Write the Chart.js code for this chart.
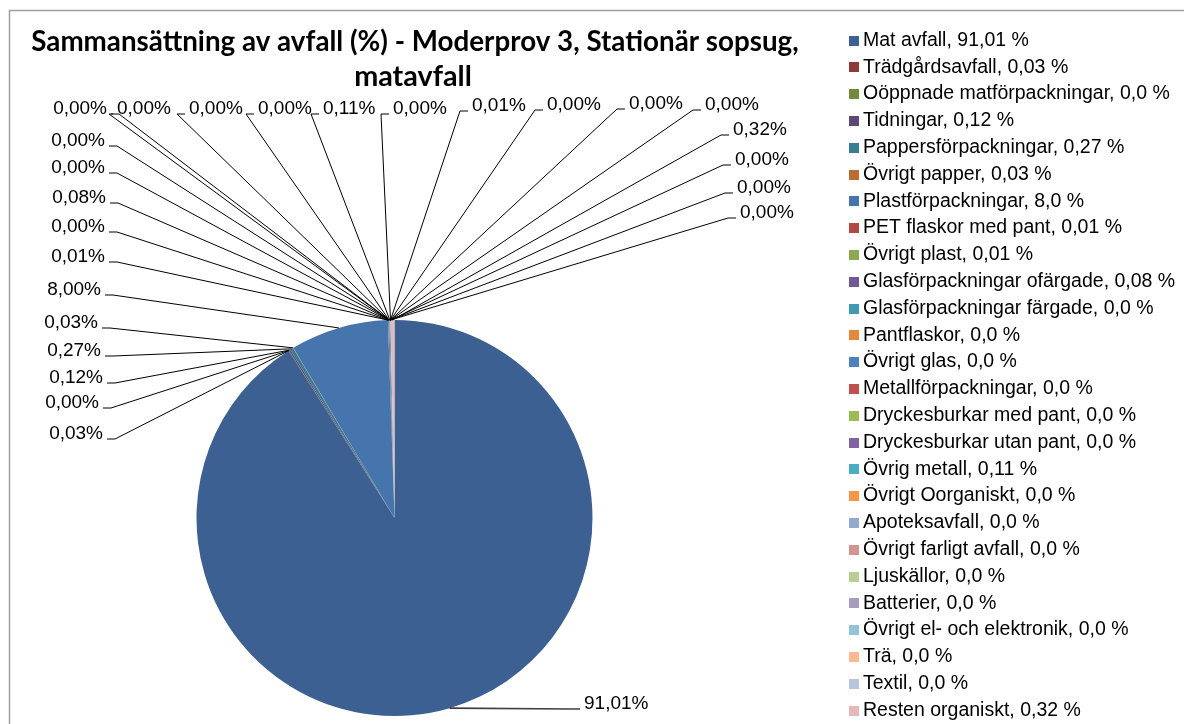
<!DOCTYPE html>
<html>
<head>
<meta charset="utf-8">
<script src="https://cdn.jsdelivr.net/npm/chart.js@4/dist/chart.umd.min.js"></script>
<style>
  html, body { margin: 0; padding: 0; background: #fff; }
</style>
</head>
<body>
<canvas id="wasteChart" width="1184" height="724"></canvas>
<script>
// Fraktioner i tårtans ordning (medurs från kl 12)
const categories = [
    'Mat avfall', 'Trädgårdsavfall', 'Oöppnade matförpackningar', 'Tidningar',
    'Pappersförpackningar', 'Övrigt papper', 'Plastförpackningar', 'PET flaskor med pant',
    'Övrigt plast', 'Glasförpackningar ofärgade', 'Glasförpackningar färgade', 'Pantflaskor',
    'Övrigt glas', 'Metallförpackningar', 'Dryckesburkar med pant', 'Dryckesburkar utan pant',
    'Övrig metall', 'Övrigt Oorganiskt', 'Apoteksavfall', 'Övrigt farligt avfall',
    'Ljuskällor', 'Batterier', 'Övrigt el- och elektronik', 'Trä', 'Textil', 'Resten organiskt'
];

// Andel (%) per fraktion, som i legenden
const values = [
    91.01, 0.03, 0.0, 0.12, 0.27, 0.03, 8.0, 0.01, 0.01, 0.08, 0.0, 0.0, 0.0,
    0.0, 0.0, 0.0, 0.11, 0.0, 0.0, 0.0, 0.0, 0.0, 0.0, 0.0, 0.0, 0.32
];

// Dataetiketterna runt tårtan, som de står i diagrammet
const labelShares = [
    91.01, 0.03, 0.00, 0.12, 0.27, 0.03, 8.00, 0.01, 0.00, 0.08, 0.00, 0.00, 0.00,
    0.00, 0.00, 0.00, 0.11, 0.00, 0.01, 0.00, 0.00, 0.00, 0.00, 0.00, 0.00, 0.32
];

const colors = [
    '#3C6091', '#8E3A38', '#728A3C', '#5D4878', '#367E92', '#B86E30',
    '#4674AC', '#B24745', '#8CA850', '#715A94', '#3F9BB5', '#E2893E',
    '#4F81BD', '#C0504D', '#9BBB59', '#8064A2', '#4BACC6', '#F79646',
    '#94A9D0', '#D39391', '#B8CE94', '#A99BBD', '#93C4D5', '#F9B993',
    '#B9C4DE', '#E6B9B8'
];

// Etikettplacering: [x, y (mitt), sida för ledarlinjen, ev. streckets längd]
const labelSpots = [
    [584, 704, 'l'],
    [103, 434, 'r'], [99, 403, 'r'], [103, 378, 'r'], [101, 351, 'r'], [98, 323, 'r'],
    [101, 290, 'r'], [105, 257, 'r'], [105, 227, 'r'], [106, 198, 'r'], [105, 168, 'r'],
    [105, 141, 'r'],
    [107, 109, 'r'], [117, 109, 'l', 4], [189, 109, 'l'], [258, 109, 'l'], [323, 109, 'l'],
    [393, 109, 'l'], [472, 106, 'l'], [547, 105, 'l'], [629, 104, 'l'], [705, 105, 'l'],
    [735, 160, 'l'], [737, 188, 'l'], [740, 213, 'l'], [733, 130, 'l']
];

const LABEL_FONT = '19px "Liberation Sans", Arial, sans-serif';
const LEGEND_FONT = '19.5px "Liberation Sans", Arial, sans-serif';

function fmtShare(v) {
    return v.toFixed(2).replace('.', ',') + '%';
}

function fmtLegend(v) {
    let s = v.toFixed(2);
    if (s.endsWith('0')) s = s.slice(0, -1);
    return s.replace('.', ',');
}

// ram + titel
const frameAndTitle = {
    id: 'frameAndTitle',
    beforeDraw(chart) {
        const ctx = chart.ctx;
        ctx.save();
        ctx.fillStyle = '#fff';
        ctx.fillRect(0, 0, chart.width, chart.height);
        ctx.strokeStyle = '#A0A0A0';
        ctx.lineWidth = 1.5;
        ctx.strokeRect(9.5, 10.5, chart.width + 20, chart.height + 20);
        ctx.restore();
    },
    afterDraw(chart) {
        const ctx = chart.ctx;
        const line1 = 'Sammansättning av avfall (%) - Moderprov 3, Stationär sopsug,';
        const line2 = 'matavfall';
        ctx.save();
        ctx.font = 'bold 24px Lato, "Open Sans", sans-serif';
        const size = 24 * 768 / ctx.measureText(line1).width;
        ctx.font = `bold ${size}px Lato, "Open Sans", sans-serif`;
        ctx.fillStyle = '#000';
        ctx.textAlign = 'center';
        ctx.textBaseline = 'alphabetic';
        ctx.fillText(line1, 415, 51);
        ctx.font = `bold ${size + 1}px Lato, "Open Sans", sans-serif`;
        ctx.fillText(line2, 413, 86);
        ctx.restore();
    }
};

// etiketter med ledarlinjer
const leaderLabels = {
    id: 'leaderLabels',
    afterDatasetsDraw(chart) {
        const ctx = chart.ctx;
        const arcs = chart.getDatasetMeta(0).data;
        ctx.save();
        ctx.font = LABEL_FONT;
        ctx.textBaseline = 'middle';
        arcs.forEach((arc, i) => {
            const [tx, ty, side, tick = 8] = labelSpots[i];
            const mid = (arc.startAngle + arc.endAngle) / 2;
            const ax = arc.x + Math.cos(mid) * arc.outerRadius;
            const ay = arc.y + Math.sin(mid) * arc.outerRadius;
            const dir = side === 'r' ? 1 : -1;
            const ly = ty + 5;
            const near = tx + dir * 4;
            const far = near + dir * tick;
            ctx.strokeStyle = i === 0 ? '#404040' : '#000';
            ctx.lineWidth = i === 0 ? 1.6 : 1;
            ctx.beginPath();
            ctx.moveTo(ax, ay);
            ctx.lineTo(far, ly);
            ctx.lineTo(near, ly);
            ctx.stroke();
            ctx.fillStyle = '#000';
            ctx.textAlign = side === 'r' ? 'right' : 'left';
            ctx.fillText(fmtShare(labelShares[i]), tx, ty);
        });
        ctx.restore();
    }
};

// legend till höger
const sideLegend = {
    id: 'sideLegend',
    afterDraw(chart) {
        const ctx = chart.ctx;
        const ds = chart.data.datasets[0];
        ctx.save();
        ctx.font = LEGEND_FONT;
        ctx.textBaseline = 'middle';
        ctx.textAlign = 'left';
        chart.data.labels.forEach((name, i) => {
            const y = 40.5 + i * 26.8;
            ctx.fillStyle = ds.backgroundColor[i];
            ctx.fillRect(849, Math.round(y - 5), 10, 10);
            ctx.fillStyle = '#000';
            ctx.fillText(`${name}, ${fmtLegend(ds.data[i])} %`, 863, y);
        });
        ctx.restore();
    }
};

new Chart(document.getElementById('wasteChart'), {
    type: 'pie',
    data: {
        labels: categories,
        datasets: [{
            data: values,
            backgroundColor: colors,
            borderWidth: 0
        }]
    },
    options: {
        responsive: false,
        animation: false,
        events: [],
        layout: { padding: { left: 196, right: 591, top: 320, bottom: 8 } },
        plugins: {
            legend: { display: false },
            tooltip: { enabled: false }
        }
    },
    plugins: [frameAndTitle, leaderLabels, sideLegend]
});
</script>
</body>
</html>
